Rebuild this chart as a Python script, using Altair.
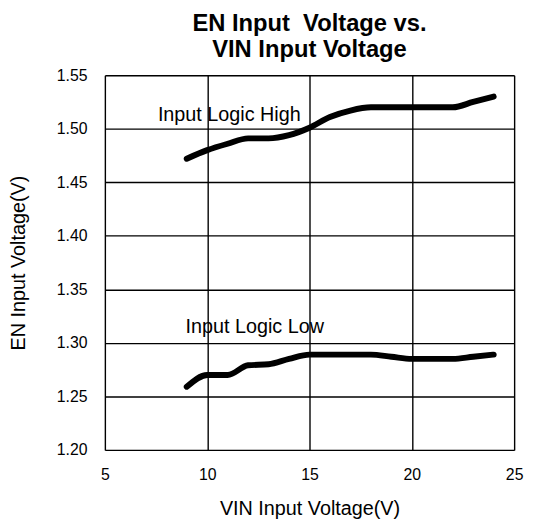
import altair as alt
import pandas as pd

# VIN input voltage (V)
vin = [9, 10, 11, 12, 13, 14, 15, 16, 17, 18, 19, 20, 21, 22, 23, 24]
# EN input logic high threshold (V)
en_high = [1.472, 1.480, 1.486, 1.491, 1.491, 1.494, 1.501, 1.511, 1.517, 1.520,
           1.520, 1.520, 1.520, 1.520, 1.525, 1.530]
# EN input logic low threshold (V)
en_low = [1.259, 1.270, 1.270, 1.279, 1.280, 1.285, 1.289, 1.289, 1.289, 1.289,
          1.287, 1.285, 1.285, 1.285, 1.287, 1.289]

x_ticks = [5, 10, 15, 20, 25]
y_ticks = [1.20, 1.25, 1.30, 1.35, 1.40, 1.45, 1.50, 1.55]

ann_text = ["Input Logic High", "Input Logic Low"]
ann_x = [7.59, 8.94]
ann_y = [1.5069, 1.3093]

FONT = "Liberation Sans"

df = pd.DataFrame({
    "vin": vin * 2,
    "v": en_high + en_low,
    "series": ["High"] * len(vin) + ["Low"] * len(vin),
})
ann = pd.DataFrame({"t": ann_text, "x": ann_x, "y": ann_y})

xs = alt.Scale(domain=[5, 25], nice=False, zero=False)
ys = alt.Scale(domain=[1.20, 1.55], nice=False, zero=False)

lines = alt.Chart(df).mark_line(
    color="black", strokeWidth=6, strokeCap="round", strokeJoin="round",
    interpolate="monotone"
).encode(
    x=alt.X("vin:Q", scale=xs, axis=alt.Axis(
        values=x_ticks, title="VIN Input Voltage(V)", grid=True,
        gridColor="black", gridWidth=1.4, gridOpacity=1, domain=False,
        ticks=False, labelFontSize=16, labelFont=FONT, labelColor="black",
        labelPadding=17, titleFont=FONT, titleFontSize=20,
        titleFontWeight="normal", titleColor="black", titlePadding=16,
        labelFlush=False)),
    y=alt.Y("v:Q", scale=ys, axis=alt.Axis(
        values=y_ticks, format=".2f", title="EN Input Voltage(V)", grid=True,
        gridColor="black", gridWidth=1.4, gridOpacity=1, domain=False,
        ticks=False, labelFontSize=16, labelFont=FONT, labelColor="black",
        labelPadding=18, titleFont=FONT, titleFontSize=20,
        titleFontWeight="normal", titleColor="black", titlePadding=28)),
    detail="series:N",
)

texts = alt.Chart(ann).mark_text(
    align="left", baseline="alphabetic", font=FONT, fontSize=20, color="black"
).encode(
    x=alt.X("x:Q", scale=xs),
    y=alt.Y("y:Q", scale=ys),
    text="t:N",
)

chart = alt.layer(lines, texts).properties(
    width=414, height=379,
    padding={"left": 98, "top": 65, "right": 12, "bottom": 74},
    autosize=alt.AutoSizeParams(type="none"),
    title=alt.TitleParams(
        text=["EN Input\u00a0 Voltage vs.", "VIN Input Voltage"],
        font=FONT, fontSize=24, fontWeight="bold", color="black",
        anchor="middle", lineHeight=27, offset=5),
).configure_view(
    stroke="black", strokeWidth=2
).configure(background="white")

chart.save("out.html", embed_options={"renderer": "svg", "actions": False})
